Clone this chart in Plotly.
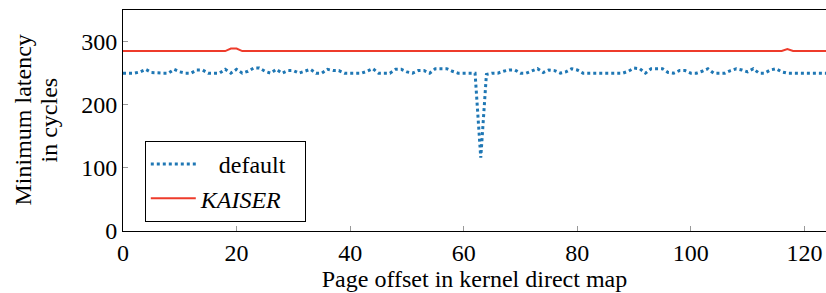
import plotly.graph_objects as go

offsets = list(range(0, 126))

default_latency = [
    250, 250, 250, 252, 256, 251, 250, 250, 250, 256,   # 0-9
    252, 250, 250, 255, 255, 250, 250, 250, 256, 250,   # 10-19
    256, 250, 253, 258, 258, 253, 250, 256, 250, 254,   # 20-29
    254, 250, 253, 256, 250, 250, 256, 254, 254, 250,   # 30-39
    250, 250, 250, 253, 257, 250, 250, 250, 256, 256,   # 40-49
    252, 250, 254, 254, 250, 257, 257, 257, 253, 250,   # 50-59
    250, 250, 250, 116, 248, 250, 250, 253, 255, 255,   # 60-69
    250, 250, 253, 257, 251, 255, 254, 250, 252, 257,   # 70-79
    255, 250, 250, 250, 250, 250, 250, 250, 250, 253,   # 80-89
    258, 257, 250, 257, 257, 257, 251, 250, 254, 254,   # 90-99
    250, 250, 253, 257, 250, 250, 250, 254, 257, 255,   # 100-109
    252, 257, 250, 250, 255, 257, 252, 250, 250, 250,   # 110-119
    250, 250, 250, 250, 250, 250,                       # 120-125
]

kaiser_latency = [285] * 126
kaiser_latency[19] = 289
kaiser_latency[20] = 289
kaiser_latency[117] = 288

x_ticks = [0, 20, 40, 60, 80, 100, 120]
y_ticks = [0, 100, 200, 300]
y_title_lines = ["Minimum latency", "in cycles"]

FONT = "'Liberation Serif', 'Times New Roman', serif"
FS = 24

fig = go.Figure()
fig.add_trace(go.Scatter(
    x=offsets, y=default_latency, mode="lines",
    name="&nbsp;&nbsp;&nbsp;default",
    line=dict(color="#1f77b4", width=3, dash="dot"),
))
fig.add_trace(go.Scatter(
    x=offsets, y=kaiser_latency, mode="lines",
    name="<i>KAISER</i>&nbsp;&nbsp;&nbsp;",
    line=dict(color="#ee3b2b", width=2),
))

axis_common = dict(
    showgrid=False, zeroline=False, showline=True, linecolor="black",
    linewidth=1, mirror=True, ticks="inside", ticklen=5, tickcolor="#999999",
    tickfont=dict(family=FONT, size=FS, color="black"),
)

# two-line rotated y title, as separate annotations for exact line spacing
for xpix, line in zip([22, 48], y_title_lines):
    fig.add_annotation(
        text=line, textangle=-90, showarrow=False,
        xref="paper", yref="paper",
        x=(xpix - 123) / 703, y=0.5, xanchor="center", yanchor="middle",
        font=dict(family=FONT, size=FS, color="black"),
    )

fig.update_layout(
    width=826, height=293,
    margin=dict(l=123, r=0, t=10, b=62),
    paper_bgcolor="white", plot_bgcolor="white",
    font=dict(family=FONT, size=FS, color="black"),
    xaxis=dict(range=[0, 123.8], tickvals=x_ticks,
               title=dict(text="Page offset in kernel direct map", standoff=0,
                          font=dict(family=FONT, size=FS)),
               **axis_common),
    yaxis=dict(range=[0, 350], tickvals=y_ticks, **axis_common),
    legend=dict(x=0.031, y=0.041, xanchor="left", yanchor="bottom",
                bordercolor="black", borderwidth=1, bgcolor="white",
                itemwidth=45,
                font=dict(family=FONT, size=FS), tracegroupgap=0),
    showlegend=True,
)

fig.write_html("out.html", config={"displayModeBar": False},
               post_script="document.body.style.margin='0';")
